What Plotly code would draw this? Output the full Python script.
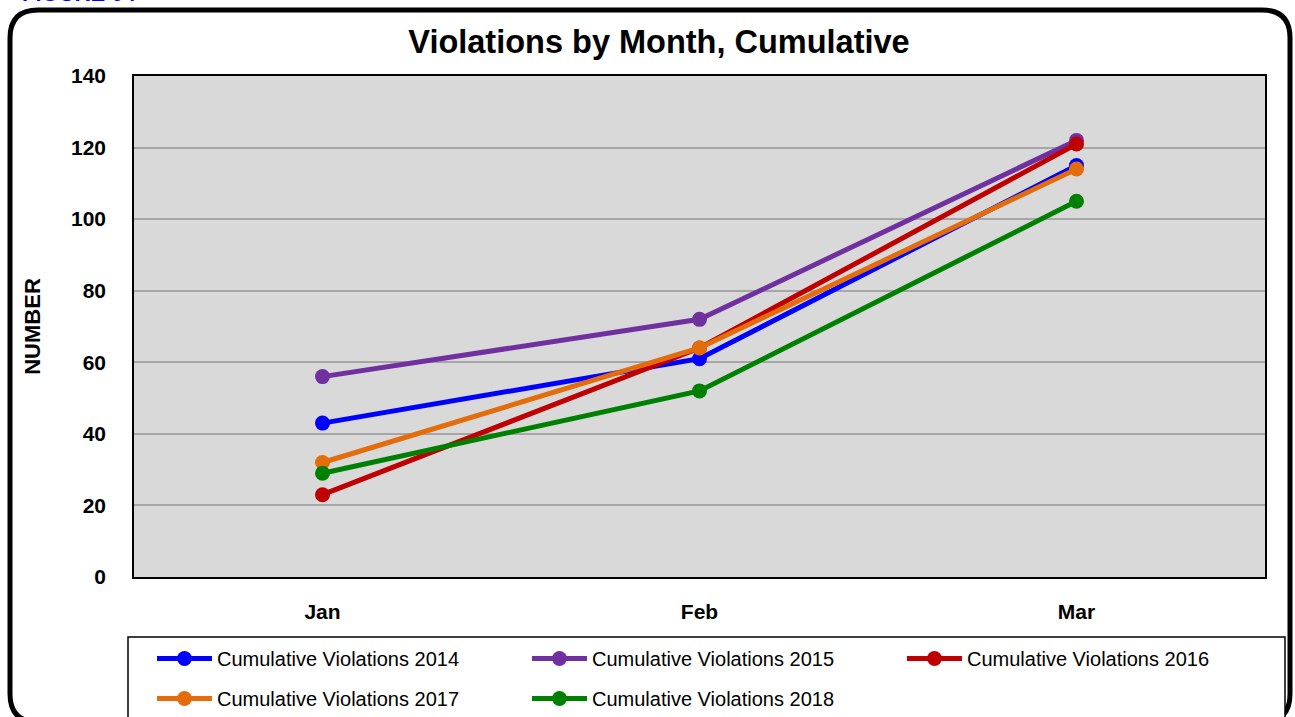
import plotly.graph_objects as go

months = ["Jan", "Feb", "Mar"]
series_names = ["Cumulative Violations 2014", "Cumulative Violations 2015",
                "Cumulative Violations 2016", "Cumulative Violations 2017",
                "Cumulative Violations 2018"]
v2014 = [43, 61, 115]
v2015 = [56, 72, 122]
v2016 = [23, 64, 121]
v2017 = [32, 64, 114]
v2018 = [29, 52, 105]
colors = ["#0000ff", "#7030a0", "#c00000", "#e46c0a", "#008000"]
y_ticks = [0, 20, 40, 60, 80, 100, 120, 140]

W, H = 1295, 717
L, R, T, B = 134, 1265, 76, 577

def px(x):
    return (x - L) / (R - L)

def py(y):
    return (B - y) / (B - T)

font = "Liberation Sans, Arial, sans-serif"

fig = go.Figure()
for i, (name, vals, c) in enumerate(zip(series_names, [v2014, v2015, v2016, v2017, v2018], colors)):
    fig.add_trace(go.Scatter(x=months, y=vals, name=name, mode="lines+markers",
                             line=dict(color=c, width=5),
                             marker=dict(color=c, size=15),
                             legend="legend" if i < 3 else "legend2"))

# rounded outer border
x0, x1, y0, y1, r = 10, 1290, 10, 722, 28
path = (f"M {px(x0+r)},{py(y0)} L {px(x1-r)},{py(y0)} "
        f"Q {px(x1)},{py(y0)} {px(x1)},{py(y0+r)} "
        f"L {px(x1)},{py(y1-r)} Q {px(x1)},{py(y1)} {px(x1-r)},{py(y1)} "
        f"L {px(x0+r)},{py(y1)} Q {px(x0)},{py(y1)} {px(x0)},{py(y1-r)} "
        f"L {px(x0)},{py(y0+r)} Q {px(x0)},{py(y0)} {px(x0+r)},{py(y0)} Z")

legend_common = dict(orientation="h", xanchor="left", yanchor="top",
                     xref="container", yref="container",
                     bgcolor="rgba(0,0,0,0)", borderwidth=0,
                     font=dict(family=font, size=20, color="black"),
                     entrywidth=305, entrywidthmode="pixels", itemwidth=55)

fig.update_layout(
    width=W, height=H,
    margin=dict(l=L, r=W - R, t=T, b=H - B),
    paper_bgcolor="white",
    plot_bgcolor="#d9d9d9",
    title=dict(text="Violations by Month, Cumulative", x=659 / W, xanchor="center",
               y=1 - 42 / H, yanchor="middle",
               font=dict(family=font, size=32.5, color="black", weight="bold")),
    xaxis=dict(range=[-0.5, 2.5], showgrid=False, showline=True, linecolor="black", linewidth=1.5,
               mirror=True, ticks="", tickfont=dict(family=font, size=21, color="black", weight="bold"),
               ticklabelstandoff=15),
    yaxis=dict(range=[0, 140], tickvals=y_ticks, showgrid=True, gridcolor="#a6a6a6", gridwidth=1.5,
               showline=True, linecolor="black", linewidth=1.5, mirror=True, zeroline=False,
               ticks="", tickfont=dict(family=font, size=21, color="black", weight="bold"),
               ticklabelstandoff=22,
               title=dict(text="NUMBER", font=dict(family=font, size=22, color="black", weight="bold"),
                          standoff=24)),
    legend=dict(x=152 / W, y=1 - 639 / H, **legend_common),
    legend2=dict(x=152 / W, y=1 - 679 / H, **legend_common),
    shapes=[dict(type="path", path=path, xref="paper", yref="paper",
                 line=dict(color="black", width=5), fillcolor="rgba(0,0,0,0)", layer="below"),
            dict(type="rect", xref="paper", yref="paper", x0=px(128), x1=px(1285),
                 y0=py(637), y1=py(730), line=dict(color="black", width=1.5),
                 fillcolor="white", layer="below")],
    annotations=[dict(text="FIGURE 04", x=px(20), y=py(8), xref="paper", yref="paper",
                      xanchor="left", yanchor="bottom", showarrow=False,
                      font=dict(family=font, size=22, color="#0000ff", weight="bold"))],
)

fig.write_html("out.html", config={"displayModeBar": False},
               post_script="document.body.style.margin='0';")
